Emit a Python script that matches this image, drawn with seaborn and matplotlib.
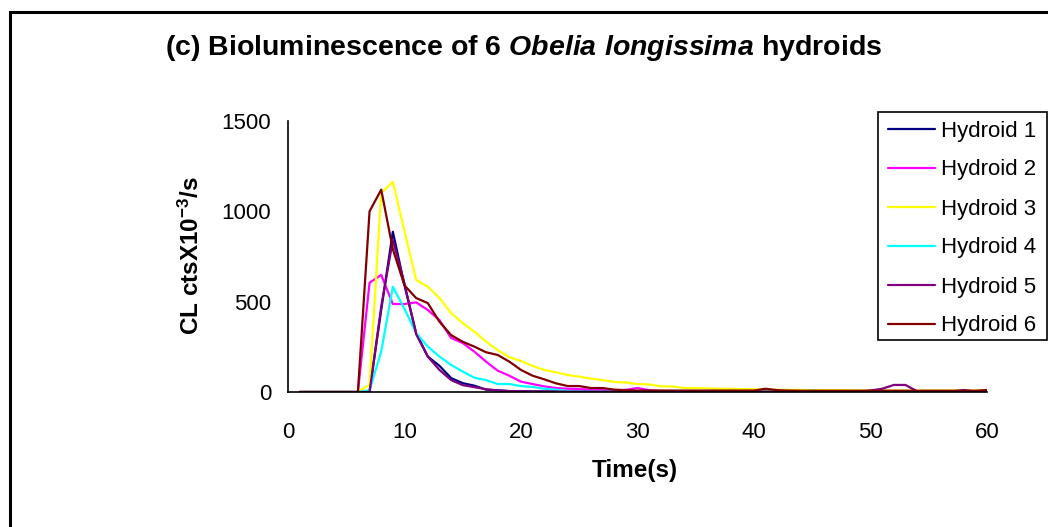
import matplotlib
matplotlib.use("Agg")
import matplotlib.pyplot as plt
import seaborn as sns
import pandas as pd
from matplotlib.patches import Rectangle

# ---- data ----
time_s = list(range(1, 61))

hydroid_1 = [0, 0, 0, 0, 0, 0, 3, 454, 887, 590, 326, 196, 145, 77, 49, 35, 13, 9, 5, 4,
             3, 3, 3, 2, 2, 2, 2, 2, 2, 2, 2, 2, 2, 2, 2, 2, 2, 2, 2, 2,
             2, 2, 2, 2, 2, 2, 2, 2, 2, 2, 2, 2, 2, 2, 2, 2, 2, 2, 2, 2]
hydroid_2 = [0, 0, 0, 0, 0, 0, 605, 648, 487, 487, 496, 454, 398, 299, 271, 223, 168, 118, 90, 57,
             44, 31, 22, 18, 17, 12, 10, 8, 12, 22, 10, 6, 5, 5, 4, 4, 4, 4, 4, 4,
             4, 4, 4, 4, 4, 4, 4, 4, 4, 4, 4, 4, 4, 4, 4, 4, 4, 4, 4, 4]
hydroid_3 = [0, 0, 0, 0, 0, 0, 40, 1100, 1164, 890, 620, 583, 520, 437, 381, 334, 279, 232, 192, 172,
             144, 122, 109, 94, 85, 74, 66, 55, 53, 44, 42, 31, 31, 22, 22, 20, 18, 17, 16, 15,
             14, 12, 12, 11, 11, 10, 10, 10, 9, 9, 9, 8, 8, 8, 8, 8, 8, 8, 8, 8]
hydroid_4 = [0, 0, 0, 0, 0, 0, 10, 223, 583, 460, 326, 251, 196, 150, 113, 79, 66, 44, 44, 33,
             28, 18, 13, 5, 3, 3, 2, 2, 2, 2, 2, 2, 2, 2, 2, 2, 2, 2, 2, 2,
             2, 2, 2, 3, 7, 3, 2, 2, 2, 2, 2, 2, 2, 2, 2, 2, 2, 2, 2, 2]
hydroid_5 = [0, 0, 0, 0, 0, 0, 0, 472, 841, 600, 320, 196, 122, 66, 38, 27, 15, 9, 5, 4,
             3, 3, 3, 2, 2, 2, 2, 2, 2, 2, 2, 2, 2, 2, 2, 2, 2, 2, 2, 2,
             2, 2, 2, 2, 2, 2, 2, 2, 3, 8, 18, 39, 39, 4, 3, 3, 3, 11, 3, 3]
hydroid_6 = [0, 0, 0, 0, 0, 0, 1000, 1120, 790, 590, 520, 492, 389, 315, 278, 251, 220, 205, 168, 122,
             90, 70, 48, 33, 33, 22, 22, 13, 10, 8, 8, 8, 8, 8, 8, 8, 8, 8, 8, 8,
             18, 10, 8, 7, 7, 7, 7, 7, 7, 7, 7, 7, 7, 7, 7, 7, 7, 7, 7, 11]

series_names = ["Hydroid 1", "Hydroid 2", "Hydroid 3", "Hydroid 4", "Hydroid 5", "Hydroid 6"]
series_values = [hydroid_1, hydroid_2, hydroid_3, hydroid_4, hydroid_5, hydroid_6]
series_colors = ["#000080", "#FF00FF", "#FFFF00", "#00FFFF", "#800080", "#800000"]

x_ticks = [0, 10, 20, 30, 40, 50, 60]
y_ticks = [0, 500, 1000, 1500]

rows = []
for name, vals in zip(series_names, series_values):
    for t, v in zip(time_s, vals):
        rows.append({"Time": t, "Value": v, "Series": name})
df = pd.DataFrame(rows)

# ---- style ----
sns.set_theme(style="white")
plt.rcParams["font.family"] = ["Liberation Sans", "DejaVu Sans"]
plt.rcParams["text.color"] = "black"
plt.rcParams["axes.labelcolor"] = "black"
plt.rcParams["xtick.color"] = "black"
plt.rcParams["ytick.color"] = "black"
plt.rcParams["mathtext.fontset"] = "custom"
plt.rcParams["mathtext.rm"] = "Liberation Sans:bold"
plt.rcParams["mathtext.bf"] = "Liberation Sans:bold"
plt.rcParams["mathtext.it"] = "Liberation Sans:italic:bold"

W, H = 1048, 527
fig = plt.figure(figsize=(W / 100, H / 100), dpi=100)
fig.patch.set_facecolor("white")

ax = fig.add_axes([288 / W, 1 - 392 / H, (987 - 288) / W, (392 - 121) / H])

sns.lineplot(data=df, x="Time", y="Value", hue="Series", palette=series_colors,
             hue_order=series_names, linewidth=1.6, ax=ax, legend=True)

ax.set_xlim(0, 60)
ax.set_ylim(0, 1500)
ax.set_xticks(x_ticks)
ax.set_yticks(y_ticks)
ax.set_xlabel("")
ax.set_ylabel("")
for s in ["top", "right"]:
    ax.spines[s].set_visible(False)
for s in ["left", "bottom"]:
    ax.spines[s].set_color("black")
    ax.spines[s].set_linewidth(1.2)
ax.tick_params(axis="x", direction="inout", length=9, width=1.2, pad=17,
               labelsize=16, colors="black")
ax.tick_params(axis="y", direction="out", length=6, width=1.2, pad=6,
               labelsize=16, colors="black")

# legend (entries without own frame; frame drawn separately)
handles, labels = ax.get_legend_handles_labels()
leg = ax.legend(handles, labels, loc="upper left",
                bbox_to_anchor=(888 / W, 1 - 120.5 / H), bbox_transform=fig.transFigure,
                borderaxespad=0, frameon=False, fontsize=16,
                handlelength=2.1, handletextpad=0.3, labelspacing=0.81,
                borderpad=0)
for line in leg.get_lines():
    line.set_linewidth(1.6)

fig.patches.append(Rectangle((878 / W, 1 - 340 / H), (1047 - 878) / W, (340 - 112) / H,
                             transform=fig.transFigure, fill=False,
                             edgecolor="black", linewidth=1.2, zorder=5))

# texts
fig.text(523.5 / W, 1 - 48 / H,
         r"(c) Bioluminescence of 6 $\mathit{Obelia\ longissima}$ hydroids",
         ha="center", va="center", fontsize=20.5, fontweight="bold")
fig.text(191 / W, 1 - 256 / H, r"CL ctsX10$^{-3}$/s", rotation=90,
         ha="center", va="center", fontsize=17.5, fontweight="bold")
fig.text(635 / W, 1 - 471 / H, "Time(s)", ha="center", va="center",
         fontsize=17.5, fontweight="bold")

# outer frame (partly cropped in the original)
fig.patches.append(Rectangle((10 / W, -0.05), 1.2, 1 - 12 / H + 0.05,
                             transform=fig.transFigure, fill=False,
                             edgecolor="black", linewidth=2.2, zorder=0))

fig.savefig("out.png", dpi=100, facecolor="white")
